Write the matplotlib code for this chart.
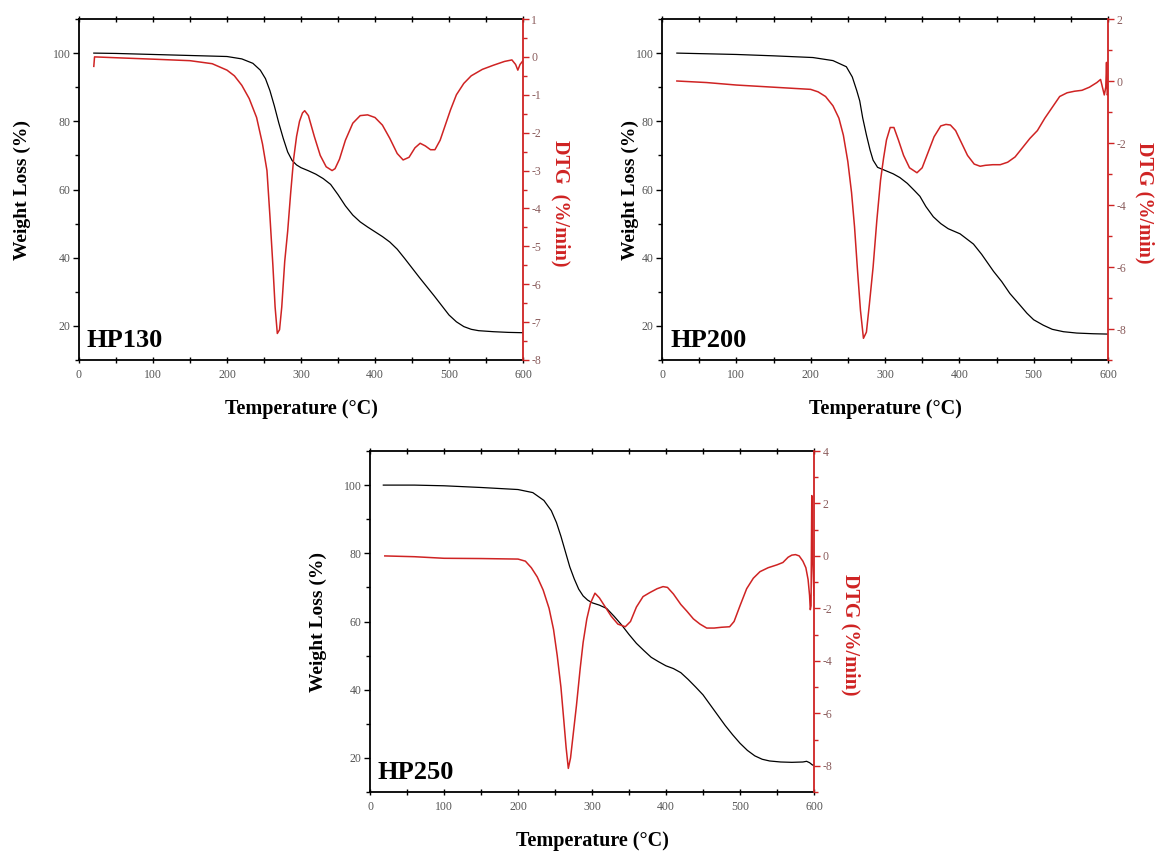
import matplotlib
matplotlib.use("Agg")
import matplotlib.pyplot as plt
from matplotlib.ticker import MultipleLocator

plt.rcParams['font.family'] = ['Liberation Serif', 'DejaVu Serif']
plt.rcParams['axes.unicode_minus'] = False

# ---------------- data ----------------
# HP130
hp130_tg_T = [20, 50, 100, 150, 200, 220, 235, 245, 252, 258, 264, 270, 276, 282, 288, 294, 300, 310,
              320, 330, 340, 350, 360, 370, 380, 390, 400, 410, 420, 430, 440, 450, 460, 470, 480, 490,
              500, 510, 520, 530, 540, 560, 580, 600]
hp130_tg = [100, 99.9, 99.6, 99.3, 99.0, 98.3, 97, 95, 92.5, 89, 84.5, 79.5, 75, 71, 68.5, 67.2, 66.4, 65.5,
            64.5, 63.2, 61.5, 58.5, 55.2, 52.5, 50.5, 49, 47.6, 46.2, 44.6, 42.5, 39.8, 37, 34.2, 31.5, 28.8, 26,
            23.2, 21.2, 19.8, 19, 18.6, 18.3, 18.1, 18.0]
hp130_dtg_T = [20, 21, 60, 100, 150, 180, 200, 210, 220, 230, 240, 248, 254, 258, 262, 265, 268, 271, 274,
               278, 282, 286, 290, 294, 298, 302, 305, 310, 318, 326, 334, 342, 346, 352, 360, 370, 380, 390,
               400, 410, 420, 430, 438, 446, 454, 461, 468, 475, 481, 488, 495, 502, 510, 520, 530, 545, 560,
               575, 585, 590, 593, 596, 600]
hp130_dtg = [-0.25, 0.0, -0.03, -0.06, -0.1, -0.18, -0.35, -0.5, -0.75, -1.1, -1.6, -2.3, -3.0, -4.2, -5.5,
             -6.6, -7.3, -7.2, -6.6, -5.4, -4.6, -3.6, -2.7, -2.1, -1.7, -1.48, -1.42, -1.55, -2.1, -2.6, -2.9,
             -3.0, -2.95, -2.7, -2.2, -1.75, -1.55, -1.53, -1.6, -1.8, -2.15, -2.55, -2.72, -2.65, -2.4, -2.28,
             -2.35, -2.45, -2.45, -2.2, -1.8, -1.4, -1.0, -0.7, -0.5, -0.33, -0.22, -0.12, -0.08, -0.2, -0.35,
             -0.2, -0.1]

# HP200
hp200_tg_T = [20, 100, 150, 203, 230, 248, 256, 262, 266, 270, 275, 280, 284, 290, 300, 311, 320, 330, 340,
              347, 355, 365, 375, 385, 401, 410, 419, 430, 446, 457, 468, 480, 491, 500, 513, 525, 540, 558,
              580, 600]
hp200_tg = [100, 99.6, 99.2, 98.7, 97.8, 96, 93, 89, 86, 81, 76, 71.5, 68.6, 66.5, 65.6, 64.6, 63.5, 61.8, 59.6,
            58, 55, 52, 50, 48.5, 47, 45.5, 44, 41, 36, 33, 29.5, 26.5, 23.7, 21.8, 20.2, 19, 18.3, 17.9,
            17.7, 17.6]
hp200_dtg_T = [20, 60, 100, 150, 200, 210, 220, 230, 238, 244, 250, 255, 259, 263, 267, 271, 275, 279, 284,
               289, 294, 298, 302, 307, 312, 318, 325, 333, 343, 350, 358, 366, 375, 382, 388, 395, 403, 411,
               420, 428, 435, 445, 455, 465, 475, 485, 495, 505, 515, 525, 535, 545, 555, 565, 575, 585, 590,
               593, 595, 597, 598, 599, 600]
hp200_dtg = [0, -0.05, -0.13, -0.2, -0.27, -0.35, -0.5, -0.8, -1.2, -1.75, -2.6, -3.6, -4.7, -6.1, -7.4, -8.3,
             -8.1, -7.2, -6.0, -4.5, -3.2, -2.5, -1.9, -1.5, -1.5, -1.9, -2.4, -2.8, -2.96, -2.8, -2.3, -1.8,
             -1.45, -1.4, -1.42, -1.6, -2.0, -2.4, -2.68, -2.75, -2.72, -2.7, -2.7, -2.62, -2.45, -2.15, -1.85,
             -1.6, -1.2, -0.85, -0.5, -0.38, -0.33, -0.3, -0.2, -0.05, 0.05, -0.25, -0.45, -0.2, 0.6, -0.45,
             -0.4]

# HP250
hp250_tg_T = [18, 60, 100, 150, 200, 220, 235, 245, 252, 258, 264, 270, 276, 282, 288, 294, 300, 310, 320,
              330, 340, 350, 360, 370, 380, 390, 400, 410, 420, 430, 440, 450, 460, 470, 480, 490, 500, 510,
              520, 530, 540, 555, 570, 585, 590, 594, 598, 600]
hp250_tg = [100, 100, 99.8, 99.3, 98.7, 97.8, 95.5, 92.5, 89, 85, 80.5, 76, 72.5, 69.5, 67.5, 66.3, 65.5, 64.8,
            63.8, 61.5, 59, 56.2, 53.6, 51.5, 49.5, 48.2, 47, 46.2, 45, 43, 40.8, 38.5, 35.5, 32.5, 29.5,
            26.8, 24.3, 22.2, 20.6, 19.6, 19.1, 18.8, 18.7, 18.8, 19.0, 18.6, 17.9, 17.9]
hp250_dtg_T = [20, 60, 100, 150, 200, 210, 218, 226, 234, 242, 248, 253, 258, 262, 265, 268, 271, 275, 279,
               284, 288, 293, 298, 304, 310, 318, 326, 335, 345, 352, 360, 369, 378, 388, 396, 402, 410, 420,
               428, 437, 446, 455, 465, 475, 486, 492, 500, 509, 518, 527, 538, 550, 558, 565, 570, 575, 580,
               585, 589, 592, 594, 595, 596, 597, 598, 600]
hp250_dtg = [0, -0.03, -0.09, -0.1, -0.12, -0.2, -0.45, -0.8, -1.3, -2.0, -2.8, -3.8, -5.0, -6.3, -7.3, -8.1,
             -7.7, -6.7, -5.7, -4.3, -3.3, -2.4, -1.8, -1.42, -1.6, -1.95, -2.3, -2.6, -2.7, -2.5, -1.95, -1.55,
             -1.4, -1.25, -1.17, -1.2, -1.45, -1.85, -2.1, -2.4, -2.6, -2.75, -2.75, -2.72, -2.7, -2.5, -1.9,
             -1.25, -0.85, -0.6, -0.45, -0.34, -0.25, -0.05, 0.03, 0.05, 0.0, -0.2, -0.45, -0.9, -1.5, -2.05,
             -1.9, 2.3, 0.0, -1.5]

samples = ["HP130", "HP200", "HP250"]
dtg_titles = ["DTG  (%/min)", "DTG (%/min)", "DTG (%/min)"]
x_ticks = [0, 100, 200, 300, 400, 500, 600]
wl_ticks = [20, 40, 60, 80, 100]
dtg_ticks = [[1, 0, -1, -2, -3, -4, -5, -6, -7, -8],
             [2, 0, -2, -4, -6, -8],
             [4, 2, 0, -2, -4, -6, -8]]
dtg_limits = [(-8, 1), (-9, 2), (-9, 4)]
dtg_minor = [0.5, 1, 1]

panels = [
    (hp130_tg_T, hp130_tg, hp130_dtg_T, hp130_dtg),
    (hp200_tg_T, hp200_tg, hp200_dtg_T, hp200_dtg),
    (hp250_tg_T, hp250_tg, hp250_dtg_T, hp250_dtg),
]

# ---------------- layout ----------------
W, H = 1160, 852
boxes = [(79, 19, 444, 341), (662, 19, 446, 341), (370, 451, 444, 341)]
ylab_x = [-0.108, -0.051, -0.097]
dtglab_x = [1.106, 1.104, 1.104]

RED = '#cf2323'
TICKC = '#555555'
RTICKC = '#8a5c5c'

fig = plt.figure(figsize=(W / 100, H / 100), dpi=100)

for i, (tT, tg, dT, dtg) in enumerate(panels):
    x0, y0, w, h = boxes[i]
    ax = fig.add_axes([x0 / W, 1 - (y0 + h) / H, w / W, h / H])
    ax.plot(tT, tg, color='black', lw=0.9)
    ax.set_xlim(0, 600)
    ax.set_ylim(10, 110)
    ax.set_xticks(x_ticks)
    ax.set_yticks(wl_ticks)
    ax.xaxis.set_minor_locator(MultipleLocator(50))
    ax.yaxis.set_minor_locator(MultipleLocator(10))
    ax.tick_params(axis='x', which='both', direction='inout', top=True, labelsize=8.5,
                   colors='black', labelcolor=TICKC, length=5, width=1, pad=4)
    ax.tick_params(axis='x', which='minor', length=4)
    ax.tick_params(axis='y', which='both', direction='out', right=False, labelsize=8.5,
                   colors='black', labelcolor=TICKC, length=4, width=1, pad=2)
    ax.tick_params(axis='y', which='minor', length=3)
    for s in ['left', 'bottom', 'top']:
        ax.spines[s].set_linewidth(1.3)
    ax.spines['right'].set_visible(False)
    ax.set_xlabel('Temperature (°C)', fontsize=14.5, fontweight='bold')
    ax.xaxis.set_label_coords(0.5, -0.113)
    ax.set_ylabel('Weight Loss (%)', fontsize=14, fontweight='bold')
    ax.yaxis.set_label_coords(ylab_x[i], 0.5)
    ax.text(0.018, 0.022, samples[i], transform=ax.transAxes, fontsize=19,
            fontweight='bold', ha='left', va='bottom')

    ax2 = ax.twinx()
    ax2.plot(dT, dtg, color=RED, lw=1.1)
    ax2.set_ylim(*dtg_limits[i])
    ax2.set_yticks(dtg_ticks[i])
    ax2.yaxis.set_minor_locator(MultipleLocator(dtg_minor[i]))
    ax2.tick_params(axis='y', which='both', direction='out', colors=RED,
                    labelcolor=RTICKC, labelsize=8.5, length=4, width=1, pad=2)
    ax2.tick_params(axis='y', which='minor', length=3)
    ax2.spines['right'].set_color(RED)
    ax2.spines['right'].set_linewidth(1.3)
    for s in ['left', 'bottom', 'top']:
        ax2.spines[s].set_visible(False)
    ax2.set_ylabel(dtg_titles[i], fontsize=14.5, fontweight='bold', color=RED, rotation=270)
    ax2.yaxis.set_label_coords(dtglab_x[i], 0.46)

fig.savefig('out.png', dpi=100)
